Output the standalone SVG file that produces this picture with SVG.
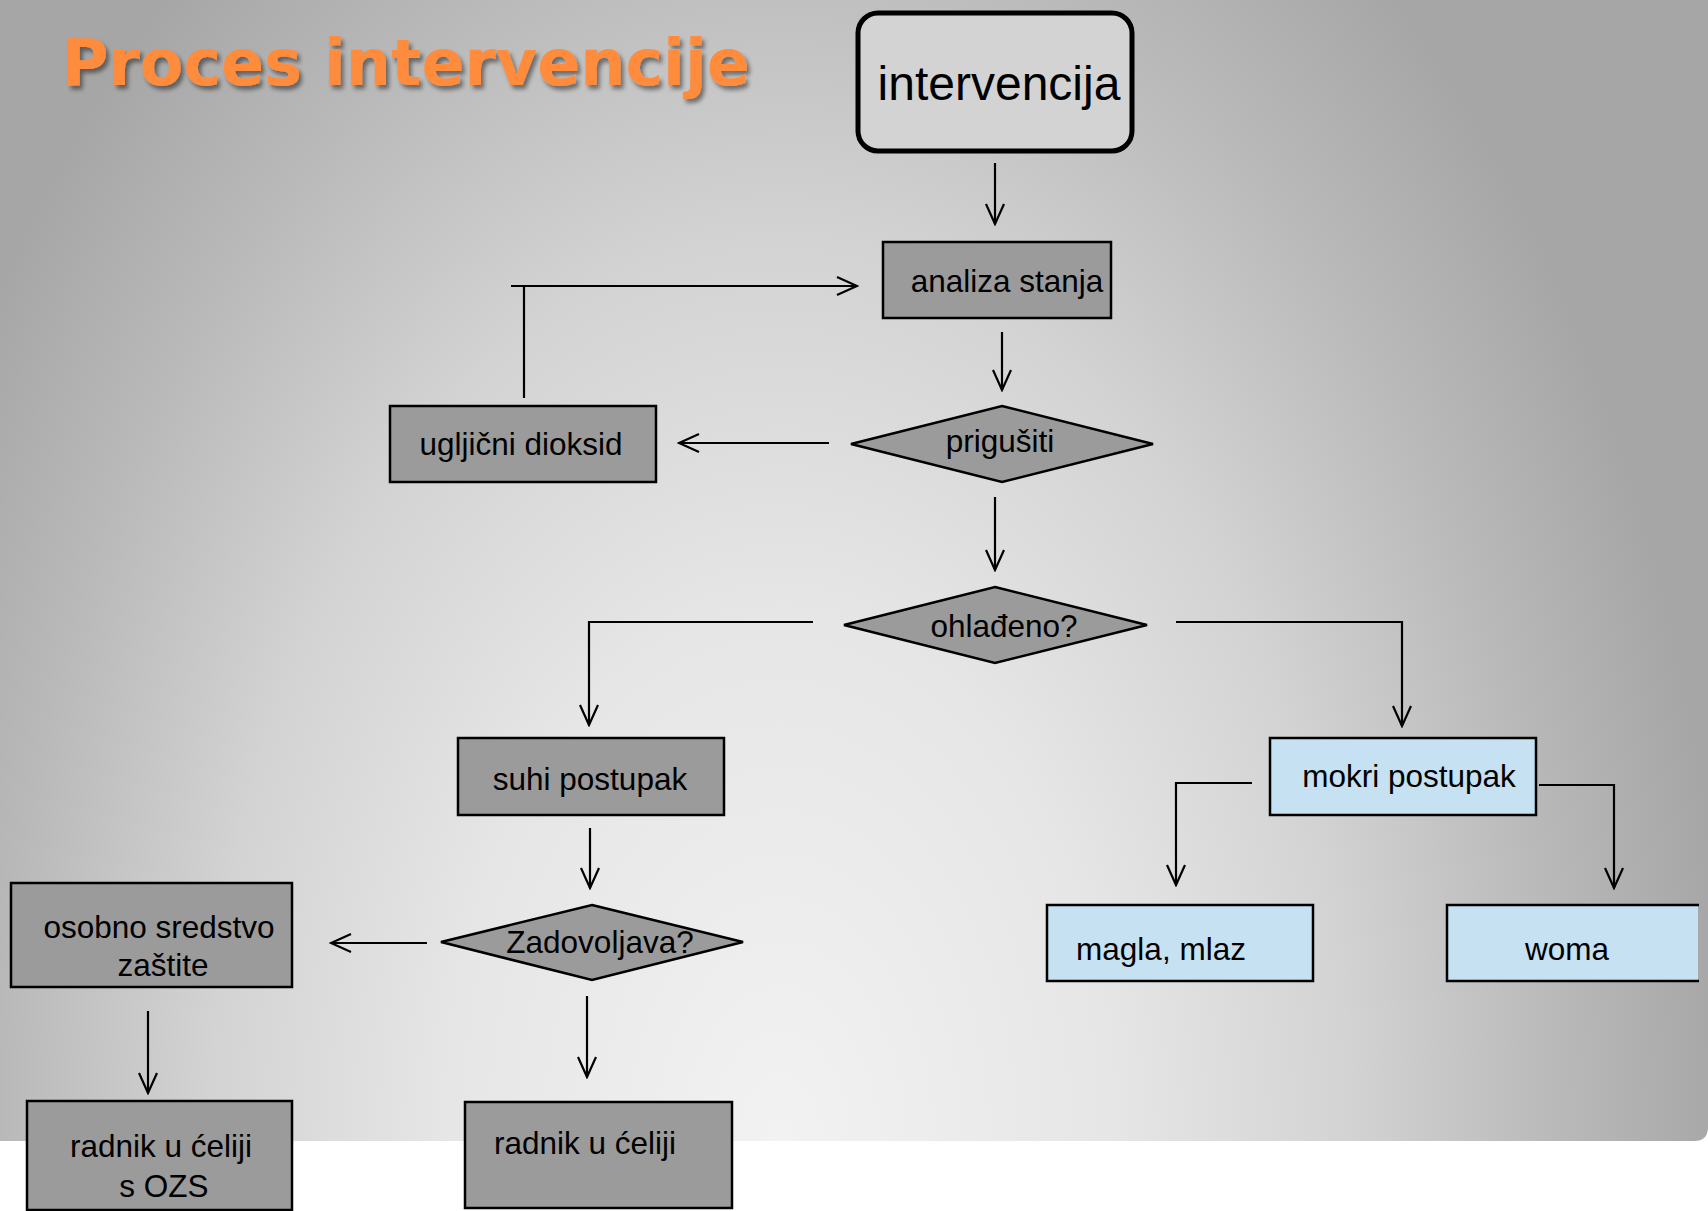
<svg xmlns="http://www.w3.org/2000/svg" width="1708" height="1211" viewBox="0 0 1708 1211">
<style>
.box{stroke:#000;stroke-width:2.5}
.gray{fill:#9b9b9b}
.blue{fill:#c5e1f2}
.lbl{font-family:"Liberation Sans",Arial,sans-serif;font-size:31.5px;fill:#000;text-anchor:middle}
.con{fill:none;stroke:#000;stroke-width:2.2}
.arr{marker-end:url(#ah)}
</style>
<defs>
<radialGradient id="bg" gradientUnits="userSpaceOnUse" cx="780" cy="1140" r="1000" gradientTransform="translate(780 1140) scale(0.95 1.5) translate(-780 -1140)">
<stop offset="0" stop-color="#f2f2f2"/>
<stop offset="0.35" stop-color="#e6e6e6"/>
<stop offset="0.6" stop-color="#d3d3d3"/>
<stop offset="0.82" stop-color="#b9b9b9"/>
<stop offset="1" stop-color="#a6a6a6"/>
</radialGradient>
<marker id="ah" markerUnits="userSpaceOnUse" viewBox="-24 -12 26 24" markerWidth="26" markerHeight="24" refX="0" refY="0" orient="auto">
<path d="M-20,-9 L0,0 L-20,9" fill="none" stroke="#000" stroke-width="2.2"/>
</marker>
<filter id="sh" x="-5%" y="-20%" width="115%" height="150%">
<feDropShadow dx="3" dy="4" stdDeviation="2" flood-color="#000" flood-opacity="0.45"/>
</filter>
</defs>
<rect x="0" y="0" width="1708" height="1211" fill="#ffffff"/>
<path d="M0,0 H1708 V1127 Q1708,1141 1694,1141 H0 Z" fill="url(#bg)"/>
<text x="62" y="85" font-family="DejaVu Sans, Verdana, sans-serif" font-weight="bold" font-size="63.5" fill="#ff8c3c" filter="url(#sh)">Proces intervencije</text>
<g id="connectors">
<path class="con arr" d="M995,163 V224"/>
<path class="con arr" d="M1002,332 V390"/>
<path class="con arr" d="M829,443 H679"/>
<path class="con" d="M524,398 V286"/>
<path class="con arr" d="M511,286 H857"/>
<path class="con arr" d="M995,497 V570"/>
<path class="con arr" d="M813,622 H589 V725"/>
<path class="con arr" d="M1176,622 H1402 V726"/>
<path class="con arr" d="M590,828 V888"/>
<path class="con arr" d="M427,943 H331"/>
<path class="con arr" d="M148,1011 V1093"/>
<path class="con arr" d="M587,996 V1077"/>
<path class="con arr" d="M1252,783 H1176 V885"/>
<path class="con arr" d="M1539,785 H1614 V888"/>
</g>
<g id="n-intervencija">
<rect x="858" y="13" width="274" height="138" rx="20" fill="#d3d3d3" stroke="#000" stroke-width="5"/>
<text class="lbl" x="999" y="100" style="font-size:48px">intervencija</text>
</g>
<g id="n-analiza">
<rect class="box gray" x="883" y="242" width="228" height="76"/>
<text class="lbl" x="1007" y="292">analiza stanja</text>
</g>
<g id="n-prigusiti">
<polygon class="box gray" points="1002,406 1153,444 1002,482 851,444"/>
<text class="lbl" x="1000" y="452">prigušiti</text>
</g>
<g id="n-ugljicni">
<rect class="box gray" x="390" y="406" width="266" height="76"/>
<text class="lbl" x="521" y="455">ugljični dioksid</text>
</g>
<g id="n-ohladeno">
<polygon class="box gray" points="995,587 1147,625 995,663 844,625"/>
<text class="lbl" x="1004" y="637">ohlađeno?</text>
</g>
<g id="n-suhi">
<rect class="box gray" x="458" y="738" width="266" height="77"/>
<text class="lbl" x="590" y="790">suhi postupak</text>
</g>
<g id="n-zadovoljava">
<polygon class="box gray" points="592,905 743,942 592,980 441,942"/>
<text class="lbl" x="600" y="953">Zadovoljava?</text>
</g>
<g id="n-osobno">
<rect class="box gray" x="11" y="883" width="281" height="104"/>
<text class="lbl" x="159" y="938">osobno sredstvo</text>
<text class="lbl" x="163" y="976">zaštite</text>
</g>
<g id="n-radnik-ozs">
<rect class="box gray" x="27" y="1101" width="265" height="109"/>
<text class="lbl" x="161" y="1157">radnik u ćeliji</text>
<text class="lbl" x="164" y="1197">s OZS</text>
</g>
<g id="n-radnik">
<rect class="box gray" x="465" y="1102" width="267" height="106"/>
<text class="lbl" x="585" y="1154">radnik u ćeliji</text>
</g>
<g id="n-mokri">
<rect class="box blue" x="1270" y="738" width="266" height="77"/>
<text class="lbl" x="1409" y="787">mokri postupak</text>
</g>
<g id="n-magla">
<rect class="box blue" x="1047" y="905" width="266" height="76"/>
<text class="lbl" x="1161" y="960">magla, mlaz</text>
</g>
<g id="n-woma">
<rect class="blue" x="1447" y="905" width="251" height="76"/>
<path d="M1699,905 H1447 V981 H1699" fill="none" stroke="#000" stroke-width="2.5"/>
<text class="lbl" x="1567" y="960">woma</text>
</g>
</svg>
